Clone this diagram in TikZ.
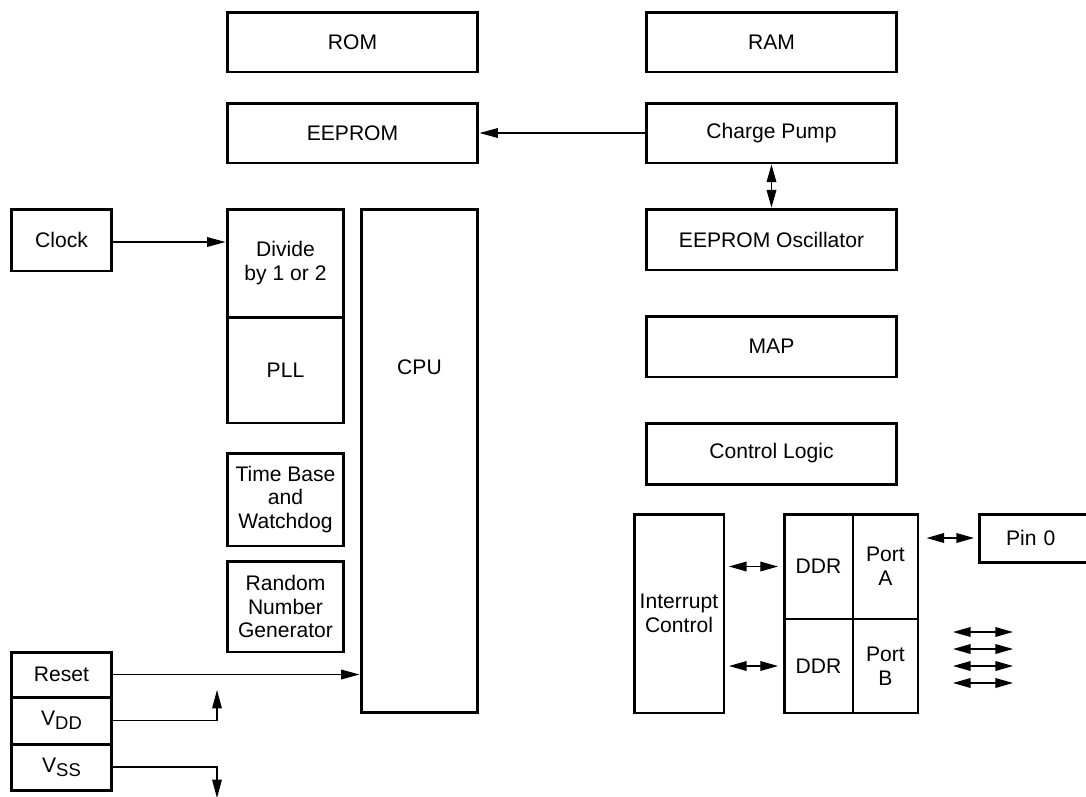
\documentclass[tikz,border=0pt]{standalone}
\usepackage{fontspec}
\setmainfont{Liberation Sans}
\usetikzlibrary{arrows.meta,positioning}

\tikzset{
  blk/.style={draw,line width=1.7pt,inner sep=0pt,align=center},
  cell/.style={draw,line width=0.9pt,inner sep=0pt,align=center},
  arr/.style={-{Triangle[length=10.5pt,width=5.5pt]},line width=0.7pt},
  darr/.style={{Triangle[length=10pt,width=5.5pt]}-{Triangle[length=10pt,width=5.5pt]},line width=0.7pt},
}
\newcommand{\subdd}[1]{\raisebox{-0.35ex}{\fontsize{10.5}{12}\selectfont #1}}

\begin{document}
\begin{tikzpicture}[x=0.02cm,y=-0.02cm,font=\fontsize{12}{13.6}\selectfont]
                \clip (0,0) rectangle (1086,796);
                % memories
                \node[blk,minimum width=5.02cm,minimum height=1.2cm] (rom) at (352.5,42) {ROM};
                \node[blk,minimum width=5.02cm,minimum height=1.2cm] (ram) at (771.5,42) {RAM};
                \node[blk,minimum width=5.02cm,minimum height=1.2cm] (eeprom) at (352.5,133) {EEPROM};
                \node[blk,minimum width=5.02cm,minimum height=1.2cm] (pump) at (771.5,133) {Charge Pump};
                \node[blk,minimum width=5.02cm,minimum height=1.22cm] (osc) at (771.5,239.5) {EEPROM Oscillator};
                \node[blk,minimum width=5.02cm,minimum height=1.22cm] (map) at (771.5,346.5) {MAP};
                \node[blk,minimum width=5.02cm,minimum height=1.22cm] (ctrl) at (771.5,453.5) {Control Logic};
                % clock and cpu
                \node[blk,minimum width=2.02cm,minimum height=1.24cm] (clock) at (61.5,240) {Clock};
                \node[blk,minimum width=2.34cm,minimum height=2.16cm] (divide) at (285.5,263) {Divide\\by 1 or 2};
                \node[blk,minimum width=2.34cm,minimum height=2.12cm] (pll) at (285.5,370) {PLL};
                \node[blk,minimum width=2.34cm,minimum height=10.08cm] (cpu) at (419.5,461) {};
                \node (cpulbl) at (419.5,367) {CPU};
                \node[blk,minimum width=2.34cm,minimum height=1.86cm] (timebase) at (285.5,499.5) {Time Base\\and\\Watchdog};
                \node[blk,minimum width=2.34cm,minimum height=1.82cm] (rng) at (285.5,606.5) {Random\\Number\\Generator};
                % pins
                \node[blk,minimum width=2.02cm,minimum height=0.9cm] (reset) at (61.5,674.5) {Reset};
                \node[blk,minimum width=2.02cm,minimum height=0.94cm] (vdd) at (61.5,720.5) {V\subdd{DD}};
                \node[blk,minimum width=2.02cm,minimum height=0.92cm] (vss) at (61.5,767) {V\subdd{SS}};
                % ports
                \node[blk,minimum width=1.8cm,minimum height=3.98cm] (intr) at (679,613.5) {Interrupt\\Control};
                \node[cell,minimum width=1.38cm,minimum height=2.1cm] (ddrA) at (818.5,566.5) {DDR};
                \node[cell,minimum width=1.3cm,minimum height=2.1cm] (portA) at (885.5,566.5) {Port\\A};
                \node[cell,minimum width=1.38cm,minimum height=1.88cm] (ddrB) at (818.5,666) {DDR};
                \node[cell,minimum width=1.3cm,minimum height=1.88cm] (portB) at (885.5,666) {Port\\B};
                \node[blk,minimum width=2.68cm,minimum height=3.98cm] (ports) at (851,613.5) {};
                \node[blk,minimum width=2.42cm,minimum height=0.96cm,text width=2.2cm,align=left] (pin) at (1039.5,538) {\hspace*{0.43cm}Pin 0};
                % connectors
                \draw[arr] (clock.east |- 0,242) -- (divide.west |- 0,242);
                \draw[arr] (pump.west) -- (eeprom.east);
                \draw[darr] (pump.south) -- (osc.north);
                \draw[arr] (reset.east) -- (cpu.west |- reset.east);
                \coordinate (vddup) at (217,690);
                \coordinate (vssdn) at (217,798);
                \draw[arr] (vdd.east) -| (vddup);
                \draw[arr] (vss.east) -| (vssdn);
                \draw[darr,shorten <=2pt,shorten >=3pt] (intr.east |- ddrA) -- (ddrA.west);
                \draw[darr,shorten <=2pt,shorten >=3pt] (intr.east |- ddrB) -- (ddrB.west);
                \draw[darr,shorten <=4pt,shorten >=2pt] (ports.east |- pin) -- (pin.west);
                \foreach \y [count=\i] in {632,649,666,683} {
                    \coordinate (pl\i) at (953,\y);
                    \coordinate (pr\i) at (1013,\y);
                    \draw[darr] (pl\i) -- (pr\i);
                }
            \end{tikzpicture}
\end{document}
